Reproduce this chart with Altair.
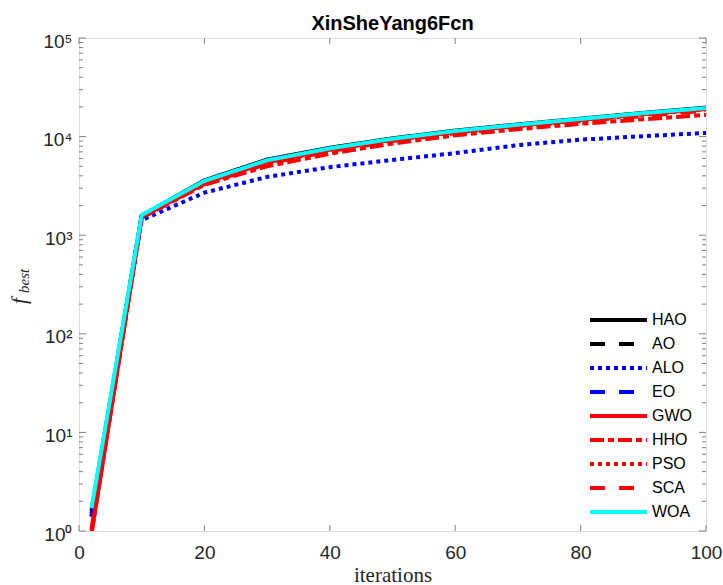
import altair as alt
import pandas as pd

# ---------------- data ----------------
iterations = [2, 10, 20, 30, 40, 50, 60, 70, 80, 90, 100]
names = ["HAO", "AO", "ALO", "EO", "GWO", "HHO", "PSO", "SCA", "WOA"]

hao = [1.6, 1580, 3600, 5850, 7700, 9600, 11500, 13300, 15200, 17400, 19700]
ao = [1.5, 1570, 3500, 5700, 7500, 9400, 11300, 13100, 15000, 17200, 19300]
alo = [1.4, 1420, 2700, 3900, 4900, 5800, 6800, 8200, 9300, 10100, 10900]
eo = [1.4, 1560, 3450, 5600, 7450, 9350, 11200, 13000, 14900, 17100, 19200]
gwo = [0.95, 1550, 3400, 5500, 7400, 9300, 11100, 12900, 14800, 16900, 19000]
hho = [0.95, 1500, 3250, 5000, 6700, 8500, 10300, 11900, 13500, 15000, 16600]
pso = [1.0, 1540, 3350, 5450, 7300, 9200, 11000, 12800, 14600, 16700, 18800]
sca = [1.05, 1530, 3300, 5300, 7100, 9000, 10800, 12500, 14300, 16200, 18300]
woa = [1.7, 1600, 3550, 5750, 7600, 9500, 11400, 13200, 15100, 17300, 19500]

series = {"HAO": hao, "AO": ao, "ALO": alo, "EO": eo, "GWO": gwo,
          "HHO": hho, "PSO": pso, "SCA": sca, "WOA": woa}

colors = ["#000000", "#000000", "#0000ff", "#0000ff", "#ff0000",
          "#ff0000", "#ff0000", "#ff0000", "#00ffff"]
dashes = [[1, 0], [15, 14], [4, 4], [15, 14], [1, 0],
          [14, 4, 6, 4], [4, 4], [15, 14], [1, 0]]

x_ticks = [0, 20, 40, 60, 80, 100]
y_major = [1, 10, 100, 1000, 10000, 100000]
y_minor = [m * 10 ** k for k in range(0, 5) for m in range(2, 10)]

rows = []
for n in names:
    for it, v in zip(iterations, series[n]):
        rows.append({"iter": it, "fbest": v, "algo": n})
df = pd.DataFrame(rows)

# ---------------- layout ----------------
W, H = 627, 493
FRAME = "#808080"
TXT = "#262626"

xscale = alt.Scale(domain=[0, 100], nice=False, zero=False)
yscale = alt.Scale(type="log", domain=[1, 100000], nice=False)

x_axis = alt.Axis(values=x_ticks, title="iterations", grid=False, ticks=False,
                  domain=False, labelFont="Liberation Sans", labelFontSize=19,
                  labelColor=TXT, labelPadding=12, labelFlush=False,
                  titleFont="Liberation Serif", titleFontSize=21,
                  titleFontWeight="normal", titleColor=TXT, titlePadding=2)
y_axis = alt.Axis(values=y_major, title="", grid=False, ticks=False,
                  domain=False, labelFont="Liberation Sans", labelFontSize=19,
                  labelColor=TXT, labelPadding=7, labelOffset=3, labelFlush=False,
                  labelExpr="'10' + ['⁰','¹','²','³','⁴','⁵'][round(log(datum.value)/LN10)]")

leg = alt.Legend(orient="none", legendX=528, legendY=270.5, title=None,
                 symbolType="M-3,0H3", symbolSize=361, symbolStrokeWidth=4,
                 labelFont="Liberation Sans", labelFontSize=16, labelColor="#000000",
                 labelOffset=22, padding=0, rowPadding=4)

color = alt.Color("algo:N", scale=alt.Scale(domain=names, range=colors), legend=leg)
dash = alt.StrokeDash("algo:N", scale=alt.Scale(domain=names, range=dashes), legend=leg)

X = alt.X("iter:Q", scale=xscale, axis=x_axis)
Y = alt.Y("fbest:Q", scale=yscale, axis=y_axis)

layers = []
for n in names:
    layers.append(
        alt.Chart(df)
        .transform_filter(alt.datum.algo == n)
        .mark_line(strokeWidth=4, clip=True)
        .encode(x=X, y=Y, color=color, strokeDash=dash)
    )

# inward ticks (MATLAB box style)
xt = pd.DataFrame({"iter": x_ticks})
ymaj = pd.DataFrame({"fbest": y_major})
ymin = pd.DataFrame({"fbest": y_minor})

tick_style = dict(color=FRAME, strokeWidth=1)
xb = alt.Chart(xt).mark_rule(**tick_style).encode(
    x=X, y=alt.value(H), y2=alt.value(H - 6))
xtop = alt.Chart(xt).mark_rule(**tick_style).encode(
    x=X, y=alt.value(0), y2=alt.value(6))
yl = alt.Chart(ymaj).mark_rule(**tick_style).encode(
    y=Y, x=alt.value(0), x2=alt.value(7))
yr = alt.Chart(ymaj).mark_rule(**tick_style).encode(
    y=Y, x=alt.value(W), x2=alt.value(W - 7))
yml = alt.Chart(ymin).mark_rule(**tick_style).encode(
    y=Y, x=alt.value(0), x2=alt.value(4))
ymr = alt.Chart(ymin).mark_rule(**tick_style).encode(
    y=Y, x=alt.value(W), x2=alt.value(W - 4))

# y-axis label  f_best
lab_f = alt.Chart(pd.DataFrame({"t": ["f"]})).mark_text(
    font="Liberation Serif", fontStyle="italic", fontSize=21, angle=270,
    align="left", baseline="alphabetic", color=TXT).encode(
    text="t:N", x=alt.value(-53), y=alt.value(266))
lab_b = alt.Chart(pd.DataFrame({"t": ["best"]})).mark_text(
    font="Liberation Serif", fontStyle="italic", fontSize=15, angle=270,
    align="left", baseline="alphabetic", color=TXT).encode(
    text="t:N", x=alt.value(-50), y=alt.value(255))

# title
title = alt.Chart(pd.DataFrame({"t": ["XinSheYang6Fcn"]})).mark_text(
    font="Liberation Sans", fontSize=20, fontWeight="bold", color="#000000",
    align="center", baseline="alphabetic").encode(
    text="t:N", x=alt.value(W / 2), y=alt.value(-8))

chart = alt.layer(*layers, xb, xtop, yl, yr, yml, ymr, lab_f, lab_b, title).properties(
    width=W, height=H,
    autosize=alt.AutoSizeParams(type="none"),
    padding={"left": 79, "top": 38, "right": 17, "bottom": 54},
).configure_view(stroke=FRAME, strokeWidth=1).configure(background="white")

chart.save("out.html", embed_options={"renderer": "svg", "actions": False})
